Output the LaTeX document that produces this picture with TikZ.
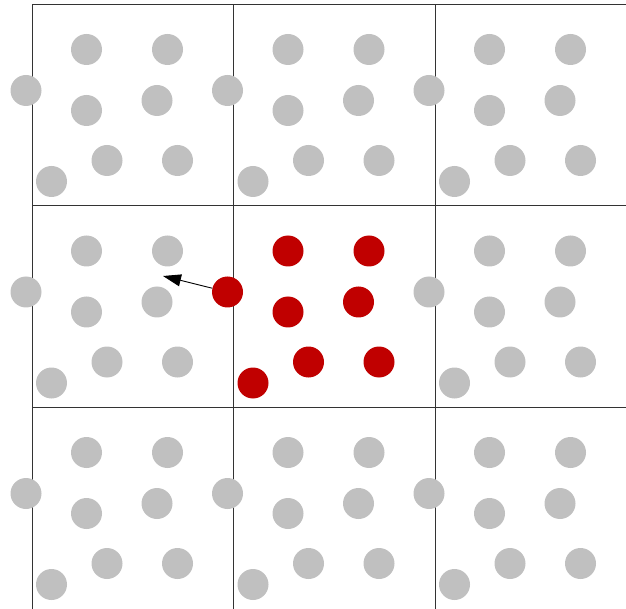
\documentclass[tikz,border=0pt]{standalone}
\usetikzlibrary{arrows.meta}
\definecolor{dotgray}{HTML}{C0C0C0}
\definecolor{dotred}{HTML}{C00000}
\definecolor{gridline}{HTML}{333333}
\tikzset{
  gridl/.style={draw=gridline, line width=1pt},
  gdot/.style={circle, fill=dotgray, draw=none, minimum size=31pt, inner sep=0pt},
  rdot/.style={circle, fill=dotred, draw=none, minimum size=31pt, inner sep=0pt},
  movearrow/.style={draw=black, line width=0.9pt, -{Triangle[length=18pt,width=12pt]}}
}
\begin{document}
\begin{tikzpicture}[x=1pt,y=-1pt]
\useasboundingbox (0,0) rectangle (626,609);
% grid lines
\foreach \x in {32,233.5,435} \draw[gridl] (\x,4.5) -- (\x,609);
\foreach \y in {4.5,206,407.5} \draw[gridl] (32,\y) -- (626,\y);
% dots
\foreach \ci/\ox in {0/32,1/233.5,2/435}{
  \foreach \cj/\oy in {0/4.5,1/206,2/407.5}{
    \foreach \k/\dx/\dy in {1/54.5/45,2/135.5/45,3/-6/86,4/54.5/106,5/125/96,6/75/156,7/145.5/156,8/19.5/177}{
      \ifnum\ci=1 \ifnum\cj=1
        \node[rdot] (d-\ci-\cj-\k) at (\ox+\dx,\oy+\dy) {};
      \else
        \node[gdot] (d-\ci-\cj-\k) at (\ox+\dx,\oy+\dy) {};
      \fi\else
        \node[gdot] (d-\ci-\cj-\k) at (\ox+\dx,\oy+\dy) {};
      \fi
    }
  }
}
\coordinate (tip) at (163,276);
\draw[movearrow] (d-1-1-3) -- (tip);
\end{tikzpicture}
\end{document}
